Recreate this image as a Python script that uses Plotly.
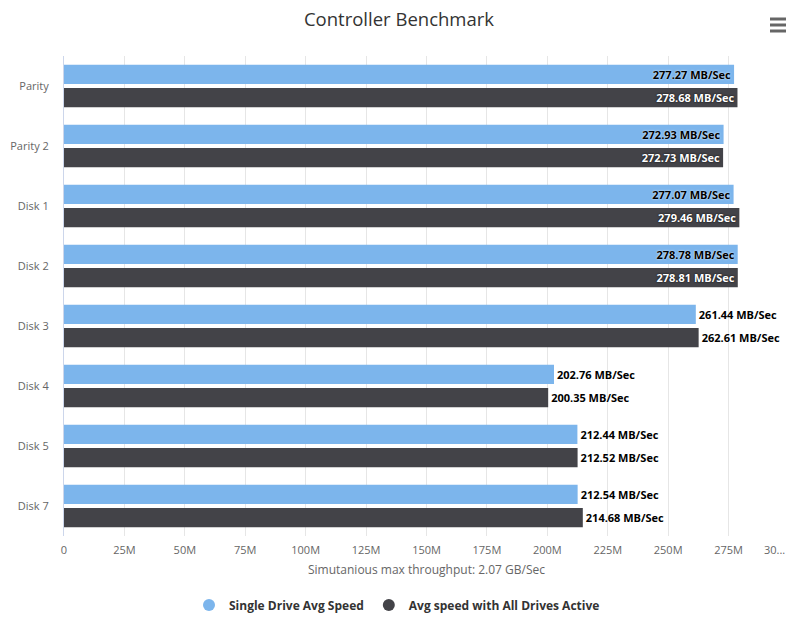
import plotly.graph_objects as go

categories = ["Parity", "Parity 2", "Disk 1", "Disk 2", "Disk 3", "Disk 4", "Disk 5", "Disk 7"]
single_drive = [277.27, 272.93, 277.07, 278.78, 261.44, 202.76, 212.44, 212.54]
all_drives = [278.68, 272.73, 279.46, 278.81, 262.61, 200.35, 212.52, 214.68]
tick_values = [0, 25, 50, 75, 100, 125, 150, 175, 200, 225, 250, 275, 300]
tick_labels = ["0", "25M", "50M", "75M", "100M", "125M", "150M", "175M", "200M",
               "225M", "250M", "275M", "30..."]
series_names = ["Single Drive Avg Speed", "Avg speed with All Drives Active"]
series_colors = ["#7cb5ec", "#434348"]
title_text = "Controller Benchmark"
x_title = "Simutanious max throughput: 2.07 GB/Sec"

FONT = "Open Sans"
X_MAX = 300
LABEL_ROOM = 36  # data units needed for an outside label


def positions(vals):
    return ["inside" if v + LABEL_ROOM > X_MAX else "outside" for v in vals]


fig = go.Figure()
for vals, name, color, inside_col, inside_shadow in [
    (single_drive, series_names[0], series_colors[0], "#000000", "0px 0px 2px #ffffff"),
    (all_drives, series_names[1], series_colors[1], "#ffffff", "0px 0px 2px #000000"),
]:
    fig.add_trace(go.Bar(
        y=categories, x=vals, orientation="h", name=name,
        marker=dict(color=color, line=dict(width=0)),
        texttemplate="%{x:.2f} MB/Sec",
        textposition=positions(vals),
        insidetextanchor="end",
        insidetextfont=dict(family=FONT, size=11, color=inside_col, weight="bold",
                            shadow=inside_shadow),
        outsidetextfont=dict(family=FONT, size=11, color="#000000", weight="bold",
                             shadow="0px 0px 2px #ffffff"),
        textangle=0,
        cliponaxis=False,
        constraintext="none",
        showlegend=False,
        hoverinfo="skip",
    ))
    fig.add_trace(go.Scatter(
        x=[None], y=[None], mode="markers", name=name,
        marker=dict(color=color, size=13, symbol="circle"),
        showlegend=True, hoverinfo="skip",
    ))

L, R, T, B = 64, 19, 56, 92
W, H = 808 - L - R, 628 - T - B

# last (truncated) tick label is right-aligned to the plot edge
shown_ticktext = tick_labels[:-1] + [""]
fig.add_annotation(x=tick_values[-1], xref="x", y=0, yref="paper",
                   text=tick_labels[-1], showarrow=False,
                   xanchor="right", yanchor="top", xshift=-2, yshift=-4,
                   font=dict(family=FONT, size=11, color="#666666"))

# hamburger (export menu) icon
for py in [19, 25, 31]:
    fig.add_shape(type="line", xref="paper", yref="paper",
                  x0=(770 - L) / W, x1=(786 - L) / W,
                  y0=(628 - B - py) / H, y1=(628 - B - py) / H,
                  line=dict(color="#666666", width=3))

fig.update_layout(
    width=808, height=628, autosize=False,
    margin=dict(l=L, r=R, t=T, b=B, autoexpand=False),
    paper_bgcolor="#ffffff", plot_bgcolor="#ffffff",
    barmode="group", bargap=0.23, bargroupgap=0.17,
    title=dict(text=title_text, x=(399 - L) / W, xref="paper", xanchor="center",
               y=1 - 20 / 628, yanchor="middle", yref="container",
               font=dict(family=FONT, size=18.5, color="#333333")),
    font=dict(family=FONT, color="#666666"),
    xaxis=dict(range=[0, X_MAX], tickvals=tick_values, ticktext=shown_ticktext,
               showgrid=True, gridcolor="#e6e6e6", gridwidth=1,
               zeroline=False, showline=False, ticks="", tickangle=0,
               automargin=False,
               tickfont=dict(family=FONT, size=11, color="#666666"),
               ticklabelstandoff=6,
               title=dict(text=x_title, standoff=9,
                          font=dict(family=FONT, size=12, color="#666666"))),
    yaxis=dict(autorange="reversed", showgrid=False, zeroline=False,
               showline=True, linecolor="#ccd6eb", linewidth=1, ticks="",
               automargin=False,
               tickfont=dict(family=FONT, size=11, color="#666666"),
               ticklabelstandoff=12),
    legend=dict(orientation="h", x=(397 - L) / W, xanchor="center",
                y=(628 - B - 605) / H, yanchor="middle",
                font=dict(family=FONT, size=12, color="#333333", weight="bold"),
                itemwidth=30, itemsizing="constant"),
    hovermode=False,
)

fig.write_html("out.html", config={"displayModeBar": False})
